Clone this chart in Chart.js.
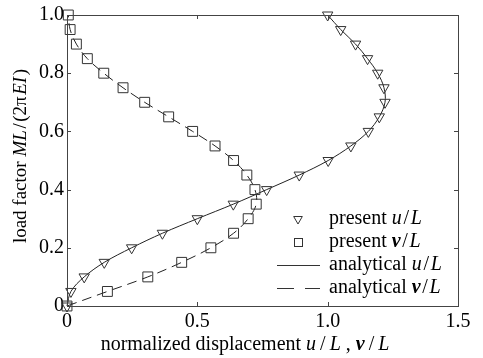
<!DOCTYPE html>
<html>
<head>
<meta charset="utf-8">
<script src="https://cdn.jsdelivr.net/npm/chart.js@4.4.1/dist/chart.umd.min.js"></script>
<style>
  html, body { margin: 0; padding: 0; background: #fff; }
  #wrap { position: relative; width: 483px; height: 358px; }
</style>
</head>
<body>
<div id="wrap"><canvas id="c" width="483" height="358"></canvas></div>
<script>
// ---- data ----
const loadFactor = [0, 0.05, 0.10, 0.15, 0.20, 0.25, 0.30, 0.35, 0.40, 0.45, 0.50,
                    0.55, 0.60, 0.65, 0.70, 0.75, 0.80, 0.85, 0.90, 0.95, 1.00];
const uPresent = [0, 0.015, 0.066, 0.143, 0.248, 0.366, 0.500, 0.638, 0.766, 0.891, 1.002,
                  1.089, 1.156, 1.198, 1.220, 1.216, 1.192, 1.153, 1.107, 1.050, 1.000];
const vPresent = [0, 0.155, 0.310, 0.440, 0.552, 0.639, 0.695, 0.726, 0.721, 0.690, 0.639,
                  0.568, 0.482, 0.390, 0.298, 0.215, 0.141, 0.078, 0.036, 0.012, 0.005];
const uAnalytical = uPresent.slice();
const vAnalytical = vPresent.slice();
const xTicks = [0, 0.5, 1.0, 1.5];
const yTicks = [0, 0.2, 0.4, 0.6, 0.8, 1.0];
const legendLabels = [
  [{t:'present ', s:'n'}, {t:'u', s:'i'}, {t:'\u200A/\u200A', s:'n'}, {t:'L', s:'i'}],
  [{t:'present ', s:'n'}, {t:'v', s:'bi'}, {t:'\u200A/\u200A', s:'n'}, {t:'L', s:'i'}],
  [{t:'analytical ', s:'n'}, {t:'u', s:'i'}, {t:'\u200A/\u200A', s:'n'}, {t:'L', s:'i'}],
  [{t:'analytical ', s:'n'}, {t:'v', s:'bi'}, {t:'\u200A/\u200A', s:'n'}, {t:'L', s:'i'}]
];
const xTitle = [{t:'normalized displacement ', s:'n'}, {t:'u', s:'i'}, {t:'\u2009/\u2009', s:'n'}, {t:'L', s:'i'},
                {t:' , ', s:'n'}, {t:'v', s:'bi'}, {t:'\u2009/\u2009', s:'n'}, {t:'L', s:'i'}];
const yTitle = [{t:'load factor ', s:'n'}, {t:'ML', s:'i'}, {t:'\u200A/\u200A(2\u03C0\u200A', s:'n'}, {t:'EI', s:'i'}, {t:'\u200A)', s:'n'}];

const FAM = "'Liberation Serif', 'Times New Roman', serif";
const FS = 20;
function fontFor(s, size) {
  size = size || FS;
  if (s === 'i') return 'italic ' + size + 'px ' + FAM;
  if (s === 'bi') return 'italic bold ' + size + 'px ' + FAM;
  return size + 'px ' + FAM;
}
function richWidth(ctx, segs, size) {
  let w = 0;
  segs.forEach(sg => { ctx.font = fontFor(sg.s, size); w += ctx.measureText(sg.t).width; });
  return w;
}
function drawRich(ctx, segs, x, y, size) {
  let cx = x;
  segs.forEach(sg => {
    ctx.font = fontFor(sg.s, size);
    ctx.fillText(sg.t, cx, y);
    cx += ctx.measureText(sg.t).width;
  });
}
function toPts(xs, ys) { return xs.map((x, i) => ({x: x, y: ys[i]})); }

const ink = '#333';

const decor = {
  id: 'decor',
  afterDraw(chart) {
    const ctx = chart.ctx;
    const a = chart.chartArea;
    const xs = chart.scales.x, ys = chart.scales.y;
    ctx.save();
    // frame
    ctx.strokeStyle = '#444';
    ctx.lineWidth = 1;
    ctx.strokeRect(Math.round(a.left) + 0.5, Math.round(a.top) + 0.5,
                   Math.round(a.right - a.left), Math.round(a.bottom - a.top));
    // inward tick marks
    const tl = 4;
    ctx.beginPath();
    xTicks.forEach(v => {
      if (v === xTicks[0] || v === xTicks[xTicks.length - 1]) return;
      const px = Math.round(xs.getPixelForValue(v)) + 0.5;
      ctx.moveTo(px, a.bottom); ctx.lineTo(px, a.bottom - tl);
      ctx.moveTo(px, a.top); ctx.lineTo(px, a.top + tl);
    });
    yTicks.forEach(v => {
      if (v === yTicks[0] || v === yTicks[yTicks.length - 1]) return;
      const py = Math.round(ys.getPixelForValue(v)) + 0.5;
      ctx.moveTo(a.left, py); ctx.lineTo(a.left + tl, py);
      ctx.moveTo(a.right, py); ctx.lineTo(a.right - tl, py);
    });
    ctx.stroke();

    // axis titles
    ctx.fillStyle = '#000';
    ctx.textBaseline = 'middle';
    const xw = richWidth(ctx, xTitle);
    drawRich(ctx, xTitle, 245 - xw / 2, 345);
    ctx.save();
    ctx.translate(21, 156);
    ctx.rotate(-Math.PI / 2);
    const yw = richWidth(ctx, yTitle, 19);
    drawRich(ctx, yTitle, -yw / 2, 0, 19);
    ctx.restore();

    // legend
    const rows = [219, 242, 265, 288];
    const mx = 298, lx0 = 277, lx1 = 320, tx = 329;
    ctx.strokeStyle = ink;
    ctx.lineWidth = 1;
    // triangle (down)
    let r = 5, cy = rows[0];
    ctx.beginPath();
    ctx.moveTo(mx - r * 0.866, cy - r * 0.5);
    ctx.lineTo(mx + r * 0.866, cy - r * 0.5);
    ctx.lineTo(mx, cy + r);
    ctx.closePath();
    ctx.stroke();
    // square
    cy = rows[1];
    ctx.strokeRect(mx - 4 + 0.5, cy - 4 + 0.5, 8, 8);
    // solid
    ctx.beginPath(); ctx.moveTo(lx0, rows[2] + 0.5); ctx.lineTo(lx1, rows[2] + 0.5); ctx.stroke();
    // dashed
    ctx.setLineDash([17, 11]);
    ctx.beginPath(); ctx.moveTo(lx0, rows[3] + 0.5); ctx.lineTo(lx1, rows[3] + 0.5); ctx.stroke();
    ctx.setLineDash([]);
    ctx.fillStyle = '#000';
    legendLabels.forEach((segs, i) => drawRich(ctx, segs, tx, rows[i]));
    ctx.restore();
  }
};

new Chart(document.getElementById('c'), {
  type: 'scatter',
  data: {
    datasets: [
      {
        label: 'analytical u/L',
        data: toPts(uAnalytical, loadFactor),
        showLine: true, tension: 0.35,
        borderColor: '#222', borderWidth: 1,
        pointRadius: 0, clip: false, order: 3
      },
      {
        label: 'analytical v/L',
        data: toPts(vAnalytical, loadFactor),
        showLine: true, tension: 0.35,
        borderColor: '#222', borderWidth: 1, borderDash: [10, 6],
        pointRadius: 0, clip: false, order: 4
      },
      {
        label: 'present u/L',
        data: toPts(uPresent, loadFactor),
        showLine: false,
        pointStyle: 'triangle', rotation: 180, pointRadius: 6,
        borderColor: ink, backgroundColor: 'rgba(0,0,0,0)', borderWidth: 1,
        clip: false, order: 1
      },
      {
        label: 'present v/L',
        data: toPts(vPresent, loadFactor),
        showLine: false,
        pointStyle: 'rect', pointRadius: 7,
        borderColor: ink, backgroundColor: 'rgba(0,0,0,0)', borderWidth: 1,
        clip: false, order: 2
      }
    ]
  },
  options: {
    responsive: false,
    animation: false,
    devicePixelRatio: 1,
    layout: { padding: { left: 0, right: 25, top: 12, bottom: 0 } },
    plugins: { legend: { display: false }, tooltip: { enabled: false } },
    scales: {
      x: {
        type: 'linear', min: 0, max: 1.5,
        afterFit(s) { s.height = 52; },
        afterBuildTicks(s) { s.ticks = xTicks.map(v => ({value: v})); },
        grid: { display: false, drawTicks: false },
        border: { display: false },
        ticks: {
          padding: 4, color: '#000', maxRotation: 0,
          font: { family: FAM, size: FS },
          callback: v => v === 0 ? '0' : v.toFixed(1)
        }
      },
      y: {
        type: 'linear', min: 0, max: 1.0,
        afterFit(s) { s.width = 67; },
        afterBuildTicks(s) { s.ticks = yTicks.map(v => ({value: v})); },
        grid: { display: false, drawTicks: false },
        border: { display: false },
        ticks: {
          padding: 3, color: '#000',
          font: { family: FAM, size: FS },
          callback: v => v === 0 ? '0' : v.toFixed(1)
        }
      }
    }
  },
  plugins: [decor]
});
</script>
</body>
</html>
